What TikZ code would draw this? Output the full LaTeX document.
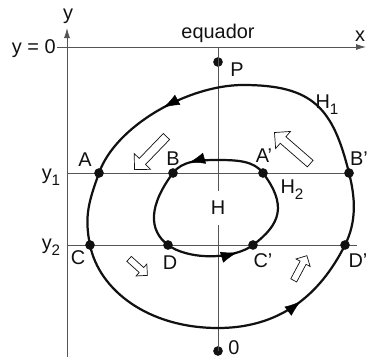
\documentclass[tikz,border=0pt]{standalone}
\usepackage{fontspec}
\setmainfont{Liberation Sans}
\usetikzlibrary{arrows.meta,positioning,shapes.arrows,decorations.markings}
\definecolor{ink}{HTML}{111111}
\definecolor{axisgray}{HTML}{555555}
\newcommand{\lowidx}[1]{\raisebox{-0.55ex}{\fontsize{13}{13}\selectfont #1}}
\tikzset{
  axis/.style={draw=axisgray,line width=0.7pt},
  axisarrow/.style={axis,-{Latex[length=3mm,width=1.8mm]}},
  orbit/.style={draw=ink,line width=1.9pt},
  flowmark/.style={decoration={markings,
      mark=at position #1 with {\arrow{Latex[length=4.8mm,width=3.4mm]}}},
    decorate},
  dot/.style={circle,fill=ink,inner sep=0pt,minimum size=2.9mm},
  lbl/.style={font=\fontsize{17}{18}\selectfont,text=ink,inner sep=1pt},
  wind/.style={single arrow,draw=ink,fill=white,line width=0.6pt,inner xsep=0pt,
    single arrow head extend=#1}
}
\begin{document}
\begin{tikzpicture}[x=0.03cm,y=-0.03cm]
  \useasboundingbox (0,0) rectangle (368,361);
  % axes and reference lines
  \coordinate (ybot) at (67,357);
  \coordinate (ytop) at (67,28);
  \coordinate (xleft) at (57,47);
  \coordinate (xright) at (366,47);
  \coordinate (eq) at (218,47);
  \coordinate (y1l) at (67,173);
  \coordinate (y1r) at (354,173);
  \coordinate (y2l) at (67,245);
  \coordinate (y2r) at (357,245);
  \draw[axisarrow] (ybot) -- (ytop);
  \draw[axisarrow] (xleft) -- (xright);
  \draw[axis] (y1l) -- (y1r);
  \draw[axis] (y2l) -- (y2r);
  \node[dot] (P) at (218,62) {};
  \node[dot] (O) at (218,351) {};
  \draw[axis] (eq) -- (O.center);
  \node[lbl,fill=white,inner xsep=2pt,inner ysep=9pt] (H) at (218,208) {H};

  % points on the orbits
  \coordinate (top1) at (243,85);
  \coordinate (bot1) at (218,328);
  \coordinate (top2) at (218,160);
  \coordinate (bot2) at (207,255);
  \node[dot] (A) at (99,173) {};
  \node[dot] (Bp) at (349,173) {};
  \node[dot] (C) at (90,245) {};
  \node[dot] (Dp) at (345,245) {};
  \node[dot] (B) at (173,173) {};
  \node[dot] (Ap) at (263,173) {};
  \node[dot] (D) at (168,245) {};
  \node[dot] (Cp) at (253,245) {};

  % H1
  \draw[orbit] (top1) .. controls (188,85) and (115.5,126) .. (A.center)
    .. controls (89,201) and (84,216) .. (C.center)
    .. controls (99,290) and (148,328) .. (bot1)
    .. controls (288,328) and (324.4,286) .. (Dp.center)
    .. controls (356.6,221.8) and (355.5,198.2) .. (Bp.center)
    .. controls (333,108) and (313,85) .. (top1);
  \path[flowmark=0.47] (top1) .. controls (188,85) and (115.5,126) .. (A.center);
  \path[flowmark=0.55] (bot1) .. controls (288,328) and (324.4,286) .. (Dp.center);

  % H2
  \draw[orbit] (top2) .. controls (198,160) and (182,161) .. (B.center)
    .. controls (149,205) and (148,230) .. (D.center)
    .. controls (188,260) and (233,260) .. (Cp.center)
    .. controls (281,224) and (287,205) .. (Ap.center)
    .. controls (254,161) and (238,160) .. (top2);
  \path[flowmark=0.6] (top2) .. controls (198,160) and (182,161) .. (B.center);
  \path[flowmark=0.8] (D.center) .. controls (188,260) and (233,260) .. (Cp.center);

  % hollow arrows
  \node[wind=0.21cm,inner ysep=0.12cm,minimum height=1.38cm,rotate=226] (w1) at (152,151.5) {};
  \node[wind=0.21cm,inner ysep=0.12cm,minimum height=1.42cm,rotate=139] (w2) at (294,149.5) {};
  \node[wind=0.14cm,inner ysep=0.09cm,minimum height=0.74cm,rotate=-42] (w3) at (137,266) {};
  \node[wind=0.14cm,inner ysep=0.09cm,minimum height=0.84cm,rotate=62] (w4) at (299.5,269.5) {};

  % labels
  \node[lbl] (ylab) at (68,16) {y};
  \node[lbl] (xlab) at (360,36) {x};
  \node[lbl] (eqlab) at (218,33) {equador};
  \node[lbl,anchor=east] (y0lab) at (57,49) {y = 0};
  \node[lbl] (y1lab) at (51,177) {y\lowidx{1}};
  \node[lbl] (y2lab) at (51,247) {y\lowidx{2}};
  \node[lbl] (Plab) at (237,70) {P};
  \node[lbl] (Olab) at (234,348) {0};
  \node[lbl] (H1lab) at (327,105) {H\lowidx{1}};
  \node[lbl] (H2lab) at (292,190) {H\lowidx{2}};
  \node[lbl] (Alab) at (85,160) {A};
  \node[lbl] (Blab) at (173,159) {B};
  \node[lbl] (Aplab) at (264,156) {A'};
  \node[lbl] (Bplab) at (359,159) {B'};
  \node[lbl] (Clab) at (78,258) {C};
  \node[lbl] (Dlab) at (170,263) {D};
  \node[lbl] (Cplab) at (263,261) {C'};
  \node[lbl] (Dplab) at (358,261) {D'};
\end{tikzpicture}
\end{document}
